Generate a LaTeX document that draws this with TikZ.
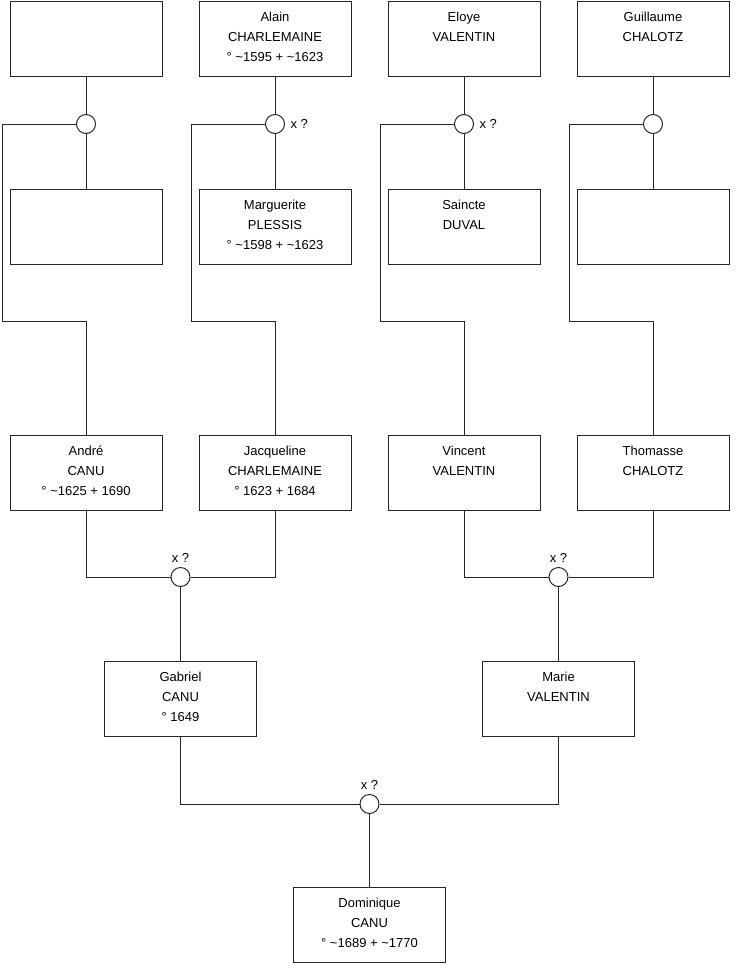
\documentclass[tikz,border=0pt]{standalone}
\usepackage{fontspec}
\setmainfont{Liberation Sans}
\begin{document}
\begin{tikzpicture}[x=1pt,y=-1pt,
  line width=1pt,
  person/.style={draw=black!85, rectangle, minimum width=152pt, minimum height=75pt, inner sep=0pt},
  ptext/.style={anchor=north, inner sep=0pt, align=center, font=\fontsize{13}{20}\selectfont},
  union/.style={draw=black!85, circle, minimum size=19pt, inner sep=0pt, fill=white},
  link/.style={draw=black!85},
  ulabel/.style={font=\fontsize{13}{14}\selectfont, inner sep=0pt}]
\useasboundingbox (0,0) rectangle (740,975);
\fill[white] (0,0) rectangle (740,975);

% row 1
\node[person] (a1) at (86,38.5) {};
\node[person] (a2) at (275,38.5) {};
\node[person] (a3) at (464,38.5) {};
\node[person] (a4) at (653,38.5) {};
\node[ptext] (ta2) at (275,6.5) {\strut Alain\\CHARLEMAINE\\° \textasciitilde1595 + \textasciitilde1623};
\node[ptext] (ta3) at (464,6.5) {\strut Eloye\\VALENTIN};
\node[ptext] (ta4) at (653,6.5) {\strut Guillaume\\CHALOTZ};

% row 2
\node[person] (b1) at (86,227) {};
\node[person] (b2) at (275,227) {};
\node[person] (b3) at (464,227) {};
\node[person] (b4) at (653,227) {};
\node[ptext] (tb2) at (275,195) {\strut Marguerite\\PLESSIS\\° \textasciitilde1598 + \textasciitilde1623};
\node[ptext] (tb3) at (464,195) {\strut Saincte\\DUVAL};

% row 3
\node[person] (c1) at (86,473) {};
\node[person] (c2) at (275,473) {};
\node[person] (c3) at (464,473) {};
\node[person] (c4) at (653,473) {};
\node[ptext] (tc1) at (86,441) {\strut André\\CANU\\° \textasciitilde1625 + 1690};
\node[ptext] (tc2) at (275,441) {\strut Jacqueline\\CHARLEMAINE\\° 1623 + 1684};
\node[ptext] (tc3) at (464,441) {\strut Vincent\\VALENTIN};
\node[ptext] (tc4) at (653,441) {\strut Thomasse\\CHALOTZ};

% row 4
\node[person] (d1) at (180.5,699) {};
\node[person] (d2) at (558.5,699) {};
\node[ptext] (td1) at (180.5,667) {\strut Gabriel\\CANU\\° 1649};
\node[ptext] (td2) at (558.5,667) {\strut Marie\\VALENTIN};

% row 5
\node[person] (e) at (369.5,925) {};
\node[ptext] (te) at (369.5,893) {\strut Dominique\\CANU\\° \textasciitilde1689 + \textasciitilde1770};

% union circles
\node[union] (m1) at (86,124) {};
\node[union] (m2) at (275,124) {};
\node[union] (m3) at (464,124) {};
\node[union] (m4) at (653,124) {};
\node[union] (n1) at (180.5,577) {};
\node[union] (n2) at (558.5,577) {};
\node[union] (o) at (369.5,804) {};

% corner coordinates
\coordinate (k1) at (2,321);
\coordinate (k2) at (191,321);
\coordinate (k3) at (380,321);
\coordinate (k4) at (569,321);

% connectors top generation
\foreach \i in {1,2,3,4}{
  \draw[link] (a\i) -- (m\i);
  \draw[link] (m\i) -- (b\i);
  \draw[link] (m\i.west) -| (k\i) -| (c\i.north);
}

% connectors lower
\draw[link] (c1.south) |- (n1.west);
\draw[link] (c2.south) |- (n1.east);
\draw[link] (n1) -- (d1);
\draw[link] (c3.south) |- (n2.west);
\draw[link] (c4.south) |- (n2.east);
\draw[link] (n2) -- (d2);
\draw[link] (d1.south) |- (o.west);
\draw[link] (d2.south) |- (o.east);
\draw[link] (o) -- (e);

% labels
\node[ulabel, anchor=west] (l2) at ([xshift=5pt]m2.east) {x ?};
\node[ulabel, anchor=west] (l3) at ([xshift=5pt]m3.east) {x ?};
\node[ulabel, anchor=south] (l5) at ([yshift=4pt]n1.north) {x ?};
\node[ulabel, anchor=south] (l6) at ([yshift=4pt]n2.north) {x ?};
\node[ulabel, anchor=south] (l7) at ([yshift=4pt]o.north) {x ?};
\end{tikzpicture}
\end{document}
